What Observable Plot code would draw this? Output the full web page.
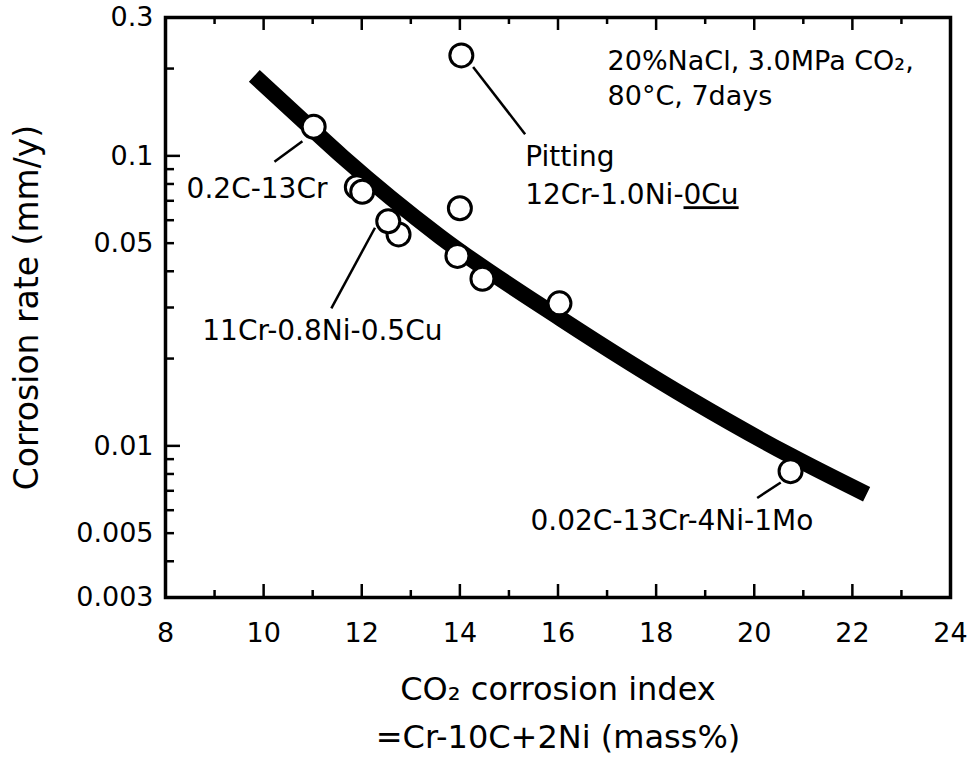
<!DOCTYPE html>
<html><head><meta charset="utf-8">
<script src="https://cdn.jsdelivr.net/npm/d3@7"></script>
<script src="https://cdn.jsdelivr.net/npm/@observablehq/plot@0.6"></script>
<style>
body{margin:0;background:#fff;}
#chart svg{display:block;}
</style></head><body><div id="chart"></div>
<script>
// Measured steels: CO2 corrosion index vs corrosion rate (mm/y)
const pointX = [11.02, 11.9, 12.01, 12.75, 12.54, 13.95, 14.0, 14.46, 16.03, 14.03, 20.74];
const pointY = [0.126, 0.078, 0.0752, 0.0536, 0.0595, 0.0452, 0.066, 0.0377, 0.031, 0.222, 0.00818];

// Thick trend curve read along its centre
const curveX = [9.81, 10.75, 11.61, 13.6, 16.05, 18.7, 20.74, 22.29];
const curveY = [0.1887, 0.1347, 0.0992, 0.0526, 0.0275, 0.01445, 0.00925, 0.00681];

// Axes
const xTickValues = [8, 10, 12, 14, 16, 18, 20, 22, 24];
const xTickLabels = ["8", "10", "12", "14", "16", "18", "20", "22", "24"];
const xMinorTicks = [9, 11, 13, 15, 17, 19, 21, 23];
const xMajorTicks = [10, 12, 14, 16, 18, 20, 22];
const yTickValues = [0.3, 0.1, 0.05, 0.01, 0.005, 0.003];
const yTickLabels = ["0.3", "0.1", "0.05", "0.01", "0.005", "0.003"];
const yMajorTicks = [0.1, 0.01];
const yMinorTicks = [0.2, 0.09, 0.08, 0.07, 0.06, 0.05, 0.04, 0.03, 0.02, 0.009, 0.008, 0.007, 0.006, 0.005, 0.004];

const xTitle = "CO₂ corrosion index\n=Cr-10C+2Ni (mass%)";
const yTitle = "Corrosion rate (mm/y)";

// Annotation labels (anchored at the start of their baseline)
const noteText = ["Pitting", "12Cr-1.0Ni-0Cu", "0.2C-13Cr", "11Cr-0.8Ni-0.5Cu", "0.02C-13Cr-4Ni-1Mo"];
const noteX = [15.33, 15.33, 8.43, 8.75, 15.44];
const noteY = [0.0925, 0.0681, 0.0714, 0.0232, 0.00511];

const condText = ["20%NaCl, 3.0MPa CO₂,", "80°C, 7days"];
const condX = [17.01, 17.01];
const condY = [0.1977, 0.1503];

// Leader lines from labels to points
const leadX1 = [14.27, 10.22, 11.38, 20.06];
const leadY1 = [0.2026, 0.0954, 0.0298, 0.00661];
const leadX2 = [15.33, 10.79, 12.27, 20.54];
const leadY2 = [0.1188, 0.1124, 0.0565, 0.00748];

const points = pointX.map((x, i) => ({x, y: pointY[i]}));
const curve = curveX.map((x, i) => ({x, y: curveY[i]}));
const notes = noteText.map((t, i) => ({t, x: noteX[i], y: noteY[i]}));
const conds = condText.map((t, i) => ({t, x: condX[i], y: condY[i]}));
const leaders = leadX1.map((x1, i) => ({x1, y1: leadY1[i], x2: leadX2[i], y2: leadY2[i]}));

const W = 968, H = 757, mT = 17, mB = 160, mL = 165, mR = 18;
const fH = H - mT - mB, fW = W - mL - mR;

const chart = Plot.plot({
  width: W, height: H,
  marginTop: mT, marginBottom: mB, marginLeft: mL, marginRight: mR,
  style: {fontFamily: "'DejaVu Sans', sans-serif", fontSize: "27px", color: "black", background: "white"},
  x: {domain: [8, 24]},
  y: {type: "log", domain: [0.003, 0.3]},
  marks: [
    Plot.line(curve, {x: "x", y: "y", stroke: "black", strokeWidth: 16, strokeLinecap: "butt", curve: "monotone-x"}),
    Plot.link(leaders, {x1: "x1", y1: "y1", x2: "x2", y2: "y2", stroke: "black", strokeWidth: 2.5}),
    Plot.dot(points, {x: "x", y: "y", r: 11.5, fill: "white", stroke: "black", strokeWidth: 3}),
    // inward ticks
    Plot.tickX(xMajorTicks, {x: d => d, insetTop: fH - 13, stroke: "black", strokeWidth: 2.5}),
    Plot.tickX(xMinorTicks, {x: d => d, insetTop: fH - 7, stroke: "black", strokeWidth: 2.5}),
    Plot.tickX(xMajorTicks, {x: d => d, insetBottom: fH - 13, stroke: "black", strokeWidth: 2.5}),
    Plot.tickX(xMinorTicks, {x: d => d, insetBottom: fH - 7, stroke: "black", strokeWidth: 2.5}),
    Plot.tickY(yMajorTicks, {y: d => d, insetRight: fW - 15, stroke: "black", strokeWidth: 2.5}),
    Plot.tickY(yMinorTicks, {y: d => d, insetRight: fW - 9, stroke: "black", strokeWidth: 2.5}),
    Plot.frame({stroke: "black", strokeWidth: 3.5}),
    Plot.axisX({ticks: xTickValues, tickSize: 0, tickPadding: 25, fontSize: 27, label: null,
      tickFormat: d => xTickLabels[xTickValues.indexOf(d)]}),
    Plot.axisY({ticks: yTickValues, tickSize: 0, tickPadding: 12, fontSize: 27, label: null,
      tickFormat: d => yTickLabels[yTickValues.indexOf(d)]}),
    Plot.text(notes, {x: "x", y: "y", text: "t", textAnchor: "start", lineAnchor: "bottom", fontSize: 28, fill: "black"}),
    Plot.text(conds, {x: "x", y: "y", text: "t", textAnchor: "start", lineAnchor: "bottom", fontSize: 27, fill: "black"}),
    Plot.text([xTitle], {text: d => d, frameAnchor: "bottom", textAnchor: "middle", lineAnchor: "bottom", dy: 150, lineHeight: 1.47, fontSize: 32, fill: "black"}),
    Plot.text([yTitle], {text: d => d, frameAnchor: "left", textAnchor: "middle", lineAnchor: "middle", dx: -138, rotate: -90, fontSize: 33, fill: "black"})
  ]
});

document.getElementById("chart").appendChild(chart);

// underline "0Cu"
d3.select(chart).selectAll("text").filter(function() { return this.textContent === "12Cr-1.0Ni-0Cu"; })
  .each(function() {
    const t = d3.select(this);
    t.text("12Cr-1.0Ni-");
    t.append("tspan").attr("text-decoration", "underline").style("text-decoration", "underline").text("0Cu");
  });
</script>
</body></html>
